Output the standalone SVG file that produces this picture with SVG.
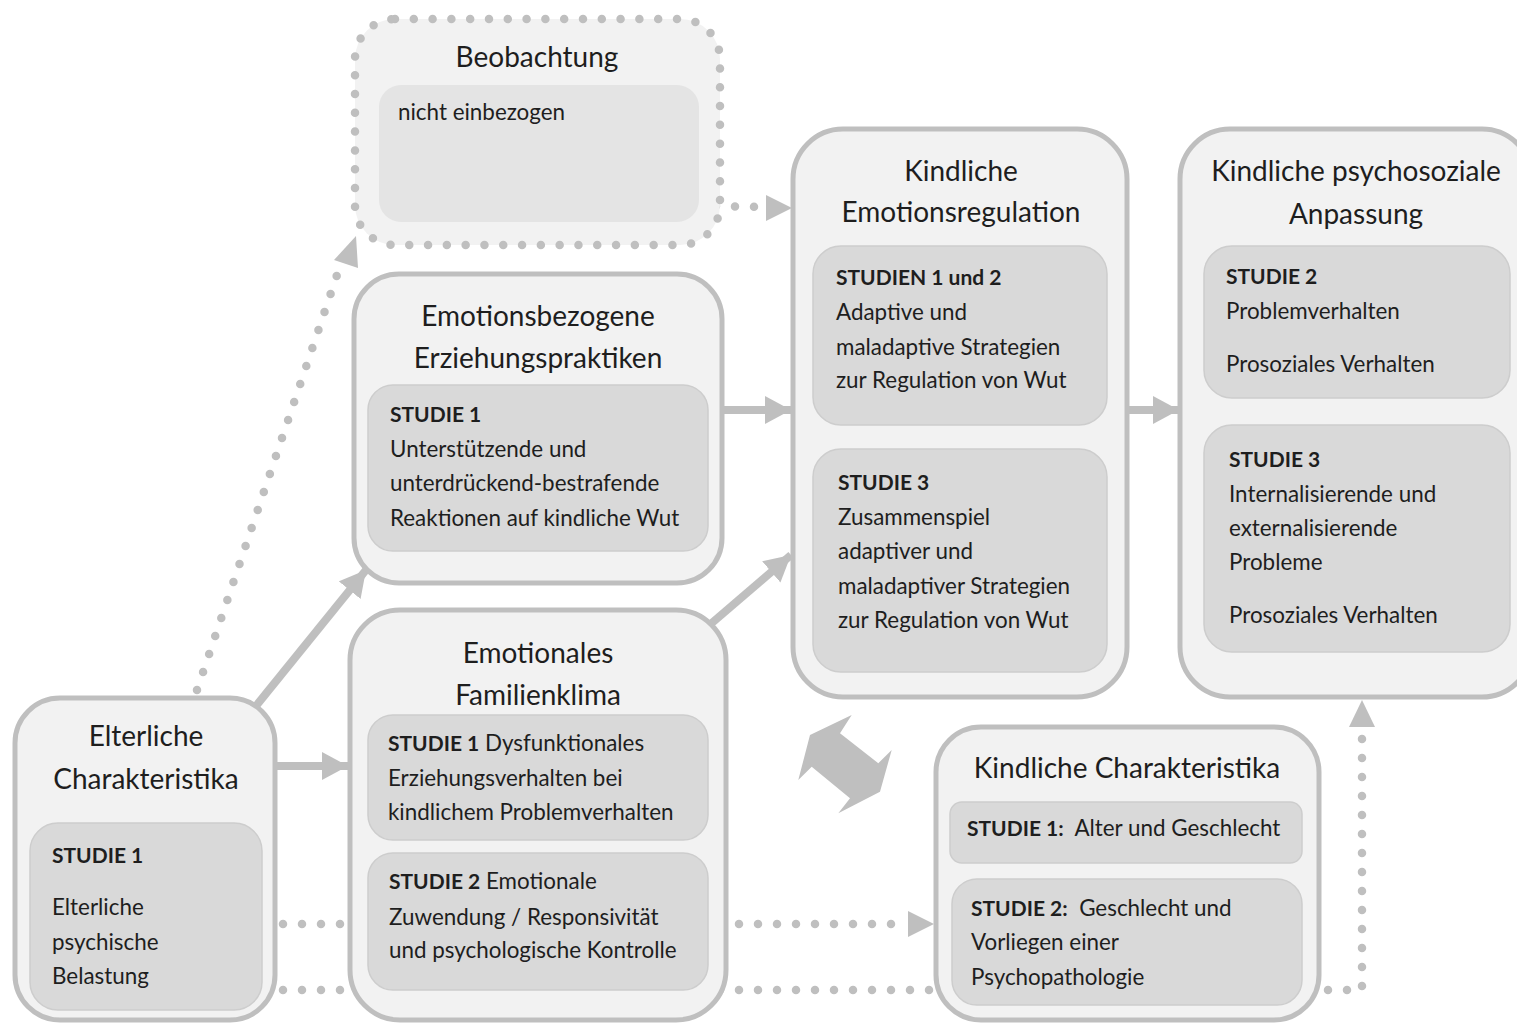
<svg xmlns="http://www.w3.org/2000/svg" width="1517" height="1024" viewBox="0 0 1517 1024">
  <style>
    text { font-family: Lato, "Open Sans", "Liberation Sans", sans-serif; fill: #1e1e1e; white-space: pre; }
    .title { font-size: 28px; text-anchor: middle; }
    .body { font-size: 22.4px; }
    .b { font-weight: bold; font-size: 21px; }
    .outer { fill: #f2f2f2; stroke: #bfbfbf; stroke-width: 5; }
    .inner { fill: #d9d9d9; stroke: #cdcdcd; stroke-width: 1.5; }
    .solid { fill: none; stroke: #bfbfbf; stroke-width: 8; }
    .dots { fill: none; stroke: #bfbfbf; stroke-width: 8.5; stroke-linecap: round; stroke-dasharray: 0 19; }
    .head { fill: #bfbfbf; }
  </style>
  <defs>
    <marker id="arrow" markerUnits="userSpaceOnUse" markerWidth="30" markerHeight="30" refX="26" refY="14" orient="auto">
      <path class="head" d="M0,0 L26,14 L0,28 Z"/>
    </marker>
  </defs>

  <rect width="1517" height="1024" fill="#ffffff"/>

  <!-- connectors (drawn below the boxes) -->
  <g id="connectors">
    <line class="solid" x1="277" y1="766" x2="348" y2="766" marker-end="url(#arrow)"/>
    <line class="solid" x1="256" y1="706" x2="366" y2="570" marker-end="url(#arrow)"/>
    <line class="solid" x1="722" y1="410" x2="791" y2="410" marker-end="url(#arrow)"/>
    <line class="solid" x1="706" y1="628" x2="791" y2="555" marker-end="url(#arrow)"/>
    <line class="solid" x1="1128" y1="410" x2="1179" y2="410" marker-end="url(#arrow)"/>
    <!-- dotted relations -->
    <line class="dots" x1="197" y1="690" x2="340" y2="266"/>
    <path class="head" d="M356,236 L358,268 L334,260 Z"/>
    <line class="dots" x1="716" y1="206" x2="760" y2="207"/>
    <path class="head" d="M792,208 L766,195 L766,221 Z"/>
    <line class="dots" x1="283" y1="924" x2="910" y2="924"/>
    <path class="head" d="M934,924 L908,911 L908,937 Z"/>
    <path class="dots" d="M283,990 L1362,990 L1362,728"/>
    <path class="head" d="M1362,700 L1349,727 L1375,727 Z"/>
    <!-- two-way relation between child characteristics and emotion regulation -->
    <polygon class="head" points="810,735 851.7,715 840,733.3 878.3,763.3 891.7,750 880,791.7 838.3,813.3 850,798.3 811.7,766.7 798.3,780"/>
  </g>

  <g id="beobachtung">
    <rect x="355" y="19" width="365" height="226" rx="40" fill="#f2f2f2" stroke="#bfbfbf" stroke-width="8.5" stroke-linecap="round" stroke-dasharray="0 18.8"/>
    <rect x="379" y="85" width="320" height="137" rx="22" fill="#e4e4e4"/>
    <text class="title" x="537" y="67">Beobachtung</text>
    <text class="body" x="398" y="120">nicht einbezogen</text>
  </g>

  <g id="emotionsbezogene">
    <rect class="outer" x="354" y="274" width="368" height="309" rx="45"/>
    <rect class="inner" x="368" y="385" width="340" height="166" rx="25"/>
    <text class="title" x="538" y="326">Emotionsbezogene</text>
    <text class="title" x="538" y="368">Erziehungspraktiken</text>
    <text class="body b" x="390" y="422">STUDIE 1</text>
    <text class="body" x="390" y="457">Unterstützende und</text>
    <text class="body" x="390" y="491">unterdrückend-bestrafende</text>
    <text class="body" x="390" y="526">Reaktionen auf kindliche Wut</text>
  </g>

  <g id="familienklima">
    <rect class="outer" x="350" y="610" width="376" height="410" rx="50"/>
    <rect class="inner" x="368" y="715" width="340" height="125" rx="25"/>
    <rect class="inner" x="368" y="853" width="340" height="137" rx="25"/>
    <text class="title" x="538" y="663">Emotionales</text>
    <text class="title" x="538" y="705">Familienklima</text>
    <text class="body" x="388" y="751"><tspan class="b">STUDIE 1</tspan> Dysfunktionales</text>
    <text class="body" x="388" y="786">Erziehungsverhalten bei</text>
    <text class="body" x="388" y="820">kindlichem Problemverhalten</text>
    <text class="body" x="389" y="889"><tspan class="b">STUDIE 2</tspan> Emotionale</text>
    <text class="body" x="389" y="925">Zuwendung / Responsivität</text>
    <text class="body" x="389" y="958">und psychologische Kontrolle</text>
  </g>

  <g id="elterliche">
    <rect class="outer" x="15" y="698" width="260" height="322" rx="45"/>
    <rect class="inner" x="30" y="823" width="232" height="187" rx="28"/>
    <text class="title" x="146" y="746">Elterliche</text>
    <text class="title" x="146" y="789">Charakteristika</text>
    <text class="body b" x="52" y="863">STUDIE 1</text>
    <text class="body" x="52" y="915">Elterliche</text>
    <text class="body" x="52" y="950">psychische</text>
    <text class="body" x="52" y="984">Belastung</text>
  </g>

  <g id="emotionsregulation">
    <rect class="outer" x="793" y="129" width="334" height="568" rx="50"/>
    <rect class="inner" x="813" y="246" width="294" height="179" rx="28"/>
    <rect class="inner" x="813" y="449" width="294" height="223" rx="28"/>
    <text class="title" x="961" y="181">Kindliche</text>
    <text class="title" x="961" y="222">Emotionsregulation</text>
    <text class="body b" x="836" y="285">STUDIEN 1 und 2</text>
    <text class="body" x="836" y="320">Adaptive und</text>
    <text class="body" x="836" y="355">maladaptive Strategien</text>
    <text class="body" x="836" y="388">zur Regulation von Wut</text>
    <text class="body b" x="838" y="490">STUDIE 3</text>
    <text class="body" x="838" y="525">Zusammenspiel</text>
    <text class="body" x="838" y="559">adaptiver und</text>
    <text class="body" x="838" y="594">maladaptiver Strategien</text>
    <text class="body" x="838" y="628">zur Regulation von Wut</text>
  </g>

  <g id="anpassung">
    <rect class="outer" x="1180" y="129" width="352" height="568" rx="50"/>
    <rect class="inner" x="1204" y="246" width="306" height="152" rx="28"/>
    <rect class="inner" x="1204" y="425" width="306" height="227" rx="28"/>
    <text class="title" x="1356" y="181">Kindliche psychosoziale</text>
    <text class="title" x="1356" y="224">Anpassung</text>
    <text class="body b" x="1226" y="284">STUDIE 2</text>
    <text class="body" x="1226" y="319">Problemverhalten</text>
    <text class="body" x="1226" y="372">Prosoziales Verhalten</text>
    <text class="body b" x="1229" y="467">STUDIE 3</text>
    <text class="body" x="1229" y="502">Internalisierende und</text>
    <text class="body" x="1229" y="536">externalisierende</text>
    <text class="body" x="1229" y="570">Probleme</text>
    <text class="body" x="1229" y="623">Prosoziales Verhalten</text>
  </g>

  <g id="kindliche-charakteristika">
    <rect class="outer" x="936" y="727" width="383" height="293" rx="45"/>
    <rect class="inner" x="950" y="802" width="352" height="61" rx="12"/>
    <rect class="inner" x="952" y="879" width="350" height="126" rx="25"/>
    <text class="title" x="1127" y="778">Kindliche Charakteristika</text>
    <text class="body" x="967" y="836"><tspan class="b">STUDIE 1:</tspan>  Alter und Geschlecht</text>
    <text class="body" x="971" y="916"><tspan class="b">STUDIE 2:</tspan>  Geschlecht und</text>
    <text class="body" x="971" y="950">Vorliegen einer</text>
    <text class="body" x="971" y="985">Psychopathologie</text>
  </g>
</svg>
